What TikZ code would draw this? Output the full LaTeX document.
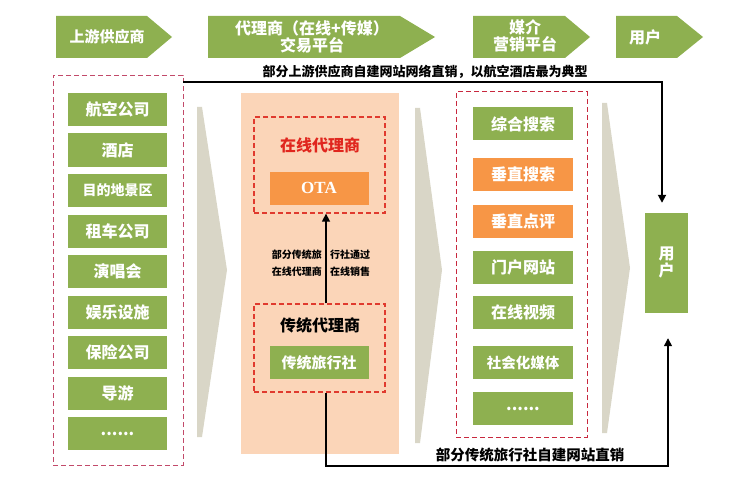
\documentclass[tikz,border=0pt]{standalone}
\usepackage{fontspec}
\setmainfont{Noto Sans CJK SC}
\newfontfamily\otafont{Liberation Serif}
\usetikzlibrary{arrows.meta}
\definecolor{leafgreen}{HTML}{8EB050}
\definecolor{otaorange}{HTML}{F79646}
\definecolor{peach}{HTML}{FBD5B8}
\definecolor{flowgray}{HTML}{D9D6C7}
\definecolor{dashpink}{HTML}{C24A6A}
\definecolor{dashcrimson}{HTML}{C8283E}
\definecolor{dashred}{HTML}{E03A2E}
\definecolor{onlinered}{HTML}{E0261E}

\begin{document}
\begin{tikzpicture}[x=1pt, y=-1pt,
        itembox/.style={fill=leafgreen, text=white, inner sep=0pt,
            minimum width=99pt, minimum height=33pt,
            font=\bfseries\fontsize{16}{16}\selectfont},
        hotbox/.style={itembox, fill=otaorange},
        groupbox/.style={draw=#1, dash pattern=on 5pt off 3pt, inner sep=0pt},
        headtext/.style={text=white, align=center,
            font=\bfseries\fontsize{16}{17}\selectfont},
        notetext/.style={font=\bfseries\fontsize{13}{14}\selectfont},
        smalltext/.style={font=\bfseries\fontsize{10}{17}\selectfont, align=left, inner sep=0pt},
        flowline/.style={line width=1.5pt, -{Triangle[length=8pt, width=8pt]}},
    ]
    \useasboundingbox (0,0) rectangle (752,500);

    % header steps
    \fill[leafgreen] (56,16) -- (147,16) -- (172,37) -- (147,58) -- (56,58) -- cycle;
    \fill[leafgreen] (208,16) -- (400,16) -- (435,37) -- (400,58) -- (208,58) -- cycle;
    \fill[leafgreen] (473,16) -- (565,16) -- (590,37) -- (565,58) -- (473,58) -- cycle;
    \fill[leafgreen] (616,16) -- (677,16) -- (703,37) -- (677,58) -- (616,58) -- cycle;
    \node[headtext, font=\bfseries\fontsize{15}{17}\selectfont] (hsupply) at (107,37) {上游供应商};
    \node[headtext] (hagent) at (312,37) {代理商（在线+传媒）\\交易平台};
    \node[headtext] (hmedia) at (525,36) {媒介\\营销平台};
    \node[headtext] (huser) at (645,37) {用户};

    % flow arrows in the back
    \fill[flowgray] (197,107) -- (202,107) -- (227,270) -- (202,437) -- (197,437) -- cycle;
    \fill[flowgray] (415,108) -- (420,108) -- (442,270) -- (420,443) -- (415,443) -- cycle;
    \fill[flowgray] (602,103) -- (607,103) -- (630,268) -- (607,433) -- (602,433) -- cycle;

    % suppliers
    \node[groupbox=dashpink, line width=0.8pt, minimum width=130pt, minimum height=390pt] (supplygroup) at (118,270) {};
    \node[itembox] (airline) at (117.5,109.5) {航空公司};
    \node[itembox] (hotel) at (117.5,150) {酒店};
    \node[itembox, font=\bfseries\fontsize{14}{14}\selectfont] (scenic) at (117.5,190.5) {目的地景区};
    \node[itembox] (carrent) at (117.5,231) {租车公司};
    \node[itembox] (concert) at (117.5,271.5) {演唱会};
    \node[itembox] (leisure) at (117.5,312) {娱乐设施};
    \node[itembox] (insure) at (117.5,352.5) {保险公司};
    \node[itembox] (guide) at (117.5,393) {导游};
    \node[itembox] (supplymore) at (117.5,433.5) {......};

    % agents
    \node[fill=peach, minimum width=158pt, minimum height=361pt, inner sep=0pt] (agentzone) at (320,273.5) {};
    \node[groupbox=dashred, line width=1.3pt, minimum width=131pt, minimum height=96pt] (onlinegroup) at (319.5,165) {};
    \node[text=onlinered, font=\bfseries\fontsize{16}{16}\selectfont] (onlinetitle) at (320,145) {在线代理商};
    \node[hotbox, font=\otafont\bfseries\fontsize{17}{17}\selectfont] (ota) at (319,188) {OTA};
    \node[groupbox=dashred, line width=1.3pt, minimum width=131pt, minimum height=88pt] (tradgroup) at (319.5,348) {};
    \node[font=\bfseries\fontsize{16}{16}\selectfont] (tradtitle) at (320,325) {传统代理商};
    \node[itembox, font=\bfseries\fontsize{15}{15}\selectfont] (travelagency) at (319,362.5) {传统旅行社};
    \draw[flowline] ([xshift=6.5pt]tradgroup.north) -- ([xshift=6.5pt]onlinegroup.south);
    \node[smalltext, anchor=east] (viaota) at (322,263.5) {部分传统旅\\在线代理商};
    \node[smalltext, anchor=west] (viaotb) at (330,263.5) {行社通过\\在线销售};

    % media
    \node[groupbox=dashcrimson, line width=1pt, minimum width=131pt, minimum height=345pt] (mediagroup) at (521.5,264.5) {};
    \node[itembox, minimum width=100pt] (search) at (523,124) {综合搜索};
    \node[hotbox, minimum width=100pt] (vsearch) at (523,174.5) {垂直搜索};
    \node[hotbox, minimum width=100pt] (vreview) at (523,221) {垂直点评};
    \node[itembox, minimum width=100pt] (portal) at (523,267) {门户网站};
    \node[itembox, minimum width=100pt] (video) at (523,312.5) {在线视频};
    \node[itembox, minimum width=100pt, font=\bfseries\fontsize{14.5}{14.5}\selectfont] (social) at (523,362.5) {社会化媒体};
    \node[itembox, minimum width=100pt] (mediamore) at (523,408.5) {......};

    % users
    \node[itembox, minimum width=43pt, minimum height=100pt, align=center,
        font=\bfseries\fontsize{16}{17}\selectfont] (userbox) at (666.5,263) {用\\户};

    % direct sales
    \coordinate (toptap) at (183,82);
    \coordinate (bottap) at (326,466);
    \node[notetext] (topnote) at (425,72) {部分上游供应商自建网站网络直销，以航空酒店最为典型};
    \node[notetext, font=\bfseries\fontsize{14.5}{15}\selectfont] (botnote) at (530,455) {部分传统旅行社自建网站直销};
    \draw[flowline, line width=1.8pt, shorten >=10pt] (toptap) -| ([xshift=-4.5pt]userbox.north);
    \draw[flowline, line width=1.3pt, shorten >=25pt] ([xshift=6.5pt]tradgroup.south) -- (bottap) -| ([xshift=1.5pt]userbox.south);
\end{tikzpicture}
\end{document}
